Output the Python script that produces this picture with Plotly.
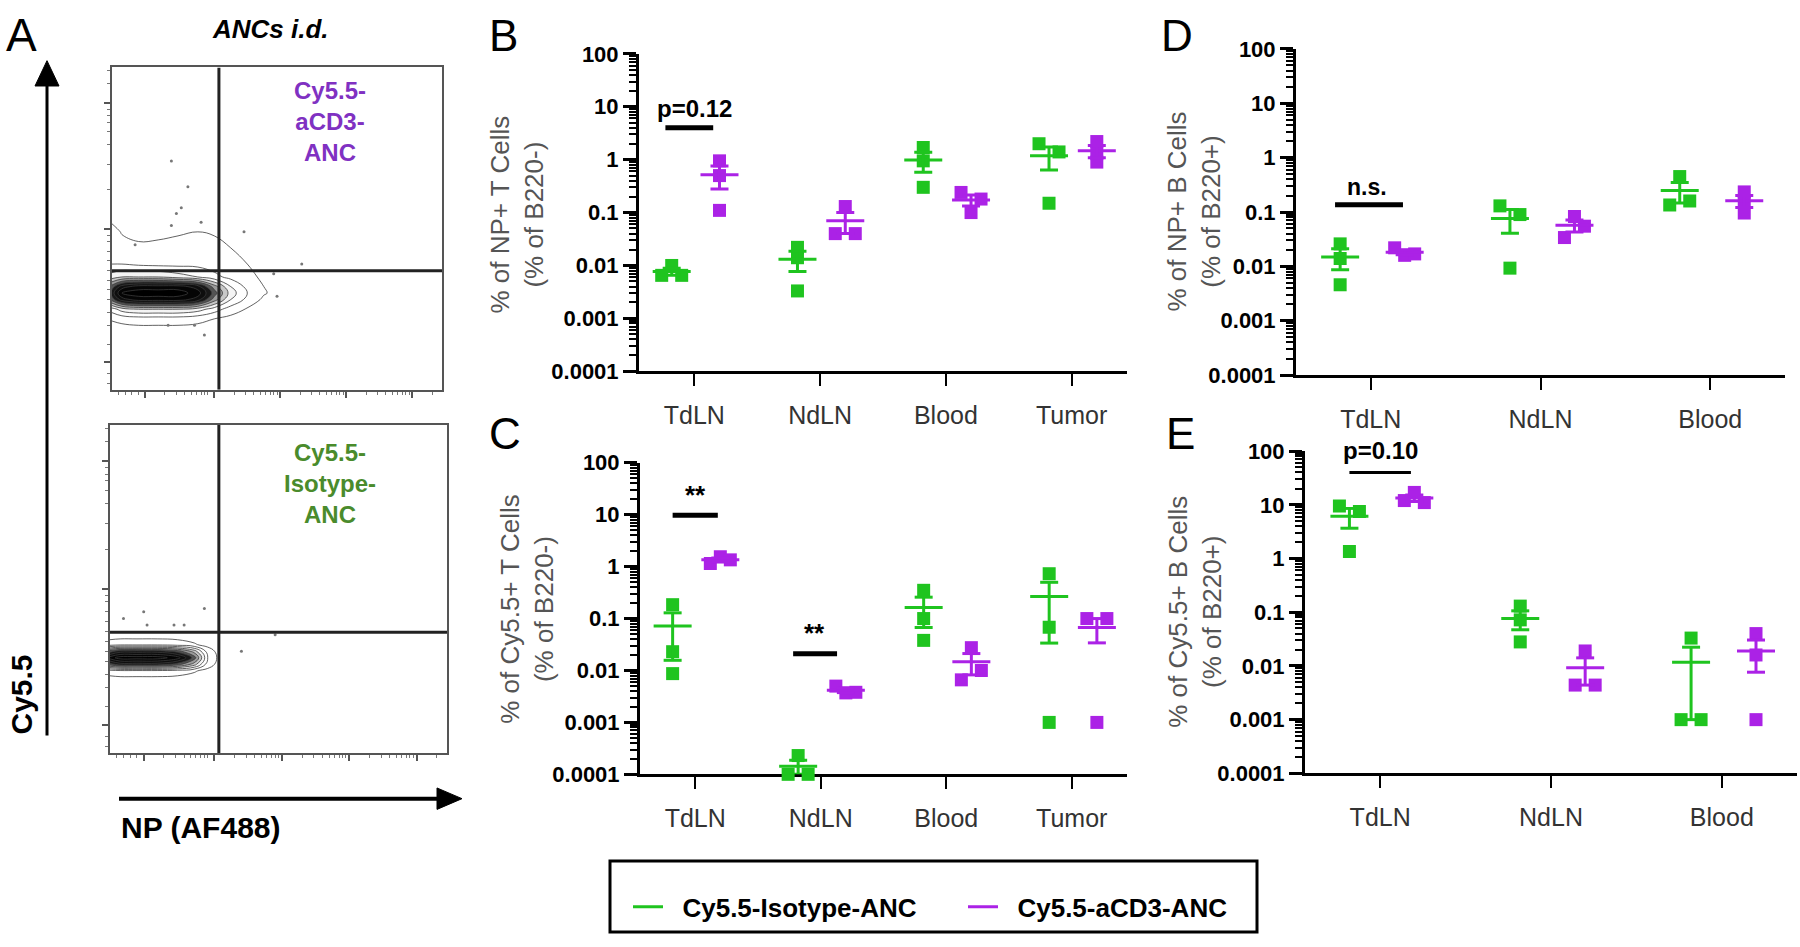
import numpy as np
import plotly.graph_objects as go

W, H = 1800, 947

# ---------------- data ----------------
tcat = ["TdLN", "NdLN", "Blood", "Tumor"]
bcat = ["TdLN", "NdLN", "Blood"]

# B: % of NP+ T Cells (% of B220-)
B_iso = [[0.0065, 0.010, 0.0065], [0.022, 0.014, 0.0033], [1.7, 0.95, 0.30], [2.0, 1.4, 0.15]]
B_cd3 = [[0.95, 0.50, 0.11], [0.13, 0.040, 0.040], [0.24, 0.18, 0.10], [2.2, 1.3, 0.90]]
# C: % of Cy5.5+ T Cells (% of B220-)
C_iso = [[0.185, 0.023, 0.0087], [0.00023, 0.0001, 0.0001], [0.35, 0.10, 0.038], [0.73, 0.068, 0.001]]
C_cd3 = [[1.15, 1.55, 1.35], [0.0050, 0.0037, 0.0038], [0.0275, 0.010, 0.0066], [0.10, 0.10, 0.001]]
# D: % of NP+ B Cells (% of B220+)
D_iso = [[0.026, 0.014, 0.0046], [0.13, 0.090, 0.0093], [0.45, 0.16, 0.135]]
D_cd3 = [[0.022, 0.016, 0.017], [0.083, 0.055, 0.034], [0.235, 0.155, 0.096]]
# E: % of Cy5.5+ B Cells (% of B220+)
E_iso = [[9.5, 7.5, 1.35], [0.13, 0.072, 0.028], [0.033, 0.001, 0.001]]
E_cd3 = [[17.0, 12.0, 11.0], [0.019, 0.0044, 0.0044], [0.040, 0.016, 0.001]]

# horizontal spread of overlapping dots (Prism-style), in dot-widths
B_iso_j = [[-1, 0, 1], [0, 0, 0], [0, 0, 0], [-1, 1, 0]]
B_cd3_j = [[0, 0, 0], [0, -1, 1], [-1, 1, 0], [0, 0, 0]]
C_iso_j = [[0, 0, 0], [0, -1, 1], [0, 0, 0], [0, 0, 0]]
C_cd3_j = [[-1, 0, 1], [-1, 0, 1], [0, 1, -1], [-1, 1, 0]]
D_iso_j = [[0, 0, 0], [-1, 1, 0], [0, 1, -1]]
D_cd3_j = [[-1, 0, 1], [0, 1, -1], [0, 0, 0]]
E_iso_j = [[-1, 1, 0], [0, 0, 0], [0, -1, 1]]
E_cd3_j = [[0, -1, 1], [0, -1, 1], [0, 0, 0]]

# significance brackets: (category, bar from, bar to, bar value, label, label offset, label value)
B_sig = [(0, -0.23, 0.15, 4.0, "p=0.12", 0.0, 9.4)]
C_sig = [(0, -0.18, 0.18, 9.8, "**", 0.0, 24.0), (1, -0.22, 0.13, 0.021, "**", -0.05, 0.052)]
D_sig = [(0, -0.21, 0.19, 0.137, "n.s.", -0.02, 0.29)]
E_sig = [(0, -0.18, 0.18, 40.0, "p=0.10", 0.0, 103.0)]

# flow-cytometry panels (A): gates and approximate contour densities (box-relative units)
top_gate_x, top_gate_y = 0.324, 0.369
bot_gate_x, bot_gate_y = 0.323, 0.368
top_cx = [0.0, 0.03, 0.08, 0.14, 0.20, 0.26, 0.31, 0.36, 0.41, 0.46, 0.52]
top_cy = [0.18, 0.22, 0.25, 0.28, 0.30, 0.32, 0.35, 0.39, 0.44, 0.49, 0.53]
top_cz = [
    [0, 0, 0, 0, 0, 0, 0, 0, 0, 0, 0],
    [0.6, 0.8, 1.0, 1.0, 1.0, 0.8, 0.5, 0.2, 0, 0, 0],
    [2.0, 3.0, 3.5, 3.5, 3.5, 3.0, 2.0, 1.0, 0.4, 0, 0],
    [6.0, 8.0, 9.0, 9.0, 9.0, 8.0, 5.0, 2.5, 1.2, 0.3, 0],
    [7.0, 9.5, 10.0, 10.0, 10.0, 9.0, 6.0, 3.0, 1.5, 0.6, 0],
    [6.0, 8.0, 9.0, 9.0, 9.0, 8.0, 5.0, 2.5, 1.2, 0.5, 0],
    [3.0, 3.5, 3.5, 3.5, 3.0, 2.5, 1.8, 1.2, 0.8, 0.3, 0],
    [1.5, 1.5, 1.3, 1.2, 1.2, 1.2, 1.0, 0.8, 0.5, 0.1, 0],
    [1.2, 1.0, 0.7, 0.7, 0.8, 0.9, 0.8, 0.5, 0.2, 0, 0],
    [1.0, 0.4, 0.2, 0.3, 0.4, 0.5, 0.4, 0.2, 0, 0, 0],
    [0.2, 0, 0, 0, 0, 0, 0, 0, 0, 0, 0],
]
top_dots_x = [0.18, 0.23, 0.21, 0.195, 0.18, 0.27, 0.40, 0.575, 0.49, 0.50, 0.07, 0.17, 0.25, 0.28]
top_dots_y = [0.71, 0.63, 0.565, 0.547, 0.51, 0.52, 0.49, 0.39, 0.36, 0.29, 0.45, 0.20, 0.20, 0.17]
bot_cx = [0.0, 0.03, 0.08, 0.14, 0.20, 0.25, 0.29, 0.33]
bot_cy = [0.22, 0.25, 0.27, 0.29, 0.31, 0.33, 0.36]
bot_cz = [
    [0, 0, 0, 0, 0, 0, 0, 0],
    [1.0, 1.2, 1.2, 1.2, 1.0, 0.6, 0.2, 0],
    [6.0, 7.0, 7.0, 7.0, 6.0, 4.0, 1.0, 0],
    [9.0, 10.0, 10.0, 10.0, 9.0, 6.0, 1.5, 0],
    [6.0, 7.0, 7.0, 7.0, 6.0, 4.0, 1.0, 0],
    [1.0, 1.2, 1.2, 1.2, 1.0, 0.6, 0.2, 0],
    [0, 0, 0, 0, 0, 0, 0, 0],
]
bot_dots_x = [0.04, 0.10, 0.11, 0.19, 0.22, 0.28, 0.39, 0.49]
bot_dots_y = [0.41, 0.43, 0.39, 0.39, 0.39, 0.44, 0.31, 0.36]

log_tickvals = [1e-4, 1e-3, 1e-2, 1e-1, 1, 10, 100]
log_ticktext = ["0.0001", "0.001", "0.01", "0.1", "1", "10", "100"]

# ---------------- styling ----------------
GREEN = "#1fc41f"
PURPLE = "#ab22e6"
FONT = "Arial, Liberation Sans, sans-serif"
LOG_MIN, LOG_MAX = -4, 2


def px(x):
    return x / W


def py(y):
    return 1 - y / H


fig = go.Figure()

panels = [
    dict(cats=tcat, iso=B_iso, cd3=B_cd3, ji=B_iso_j, jc=B_cd3_j, sig=B_sig, xa="x", ya="y",
         xd=(639, 1127), yd=(43, 369), bar_w=5, sig_size=24,
         title="% of NP+ T Cells<br>(% of B220-)", txy=(517, 208), legend=True),
    dict(cats=tcat, iso=C_iso, cd3=C_cd3, ji=C_iso_j, jc=C_cd3_j, sig=C_sig, xa="x2", ya="y2",
         xd=(640, 1127), yd=(463, 783), bar_w=5, sig_size=26,
         title="% of Cy5.5+ T Cells<br>(% of B220-)", txy=(527, 613), legend=False),
    dict(cats=bcat, iso=D_iso, cd3=D_cd3, ji=D_iso_j, jc=D_cd3_j, sig=D_sig, xa="x3", ya="y3",
         xd=(1296, 1785), yd=(38, 373), bar_w=5, sig_size=23,
         title="% of NP+ B Cells<br>(% of B220+)", txy=(1194, 205), legend=False),
    dict(cats=bcat, iso=E_iso, cd3=E_cd3, ji=E_iso_j, jc=E_cd3_j, sig=E_sig, xa="x4", ya="y4",
         xd=(1305, 1797), yd=(451, 782), bar_w=3, sig_size=24,
         title="% of Cy5.5+ B Cells<br>(% of B220+)", txy=(1195, 616), legend=False),
]

minor_vals = [k * 10.0 ** d for d in range(-4, 2) for k in range(2, 10)]
annotations = []
shapes = []

for i, p in enumerate(panels):
    n = len(p["cats"])
    span = n - 1 + 0.88
    spacing = (p["xd"][1] - p["xd"][0]) / span
    for vals, jit, color, off, name in [(p["iso"], p["ji"], GREEN, -0.18, "\u00a0\u00a0Cy5.5-Isotype-ANC"),
                                        (p["cd3"], p["jc"], PURPLE, 0.20, "\u00a0\u00a0Cy5.5-aCD3-ANC")]:
        mx, my, lx, ly = [], [], [], []
        hw, cw, ju = 19 / spacing, 9 / spacing, 10 / spacing
        for k, (v, j) in enumerate(zip(vals, jit)):
            c = k + off
            for val, jj in zip(v, j):
                mx.append(c + jj * ju)
                my.append(val)
            m = float(np.mean(v))
            s = float(np.std(v, ddof=1) / np.sqrt(len(v)))
            lo = max(m - s, 1e-5)
            lx += [c - hw, c + hw, None, c, c, None, c - cw, c + cw, None, c - cw, c + cw, None]
            ly += [m, m, None, lo, m + s, None, m + s, m + s, None, lo, lo, None]
        fig.add_trace(go.Scatter(x=mx, y=my, mode="markers", xaxis=p["xa"], yaxis=p["ya"],
                                 marker=dict(symbol="square", size=13, color=color, line=dict(width=0)),
                                 cliponaxis=False, showlegend=False, hoverinfo="y"))
        fig.add_trace(go.Scatter(x=lx, y=ly, mode="lines", xaxis=p["xa"], yaxis=p["ya"],
                                 line=dict(color=color, width=3), cliponaxis=False,
                                 name=name, showlegend=p["legend"], hoverinfo="skip"))
    for (cat, x0, x1, yb, label, tx, ty) in p["sig"]:
        fig.add_trace(go.Scatter(x=[cat + x0, cat + x1], y=[yb, yb], mode="lines", xaxis=p["xa"],
                                 yaxis=p["ya"], line=dict(color="black", width=p["bar_w"]),
                                 showlegend=False, cliponaxis=False, hoverinfo="skip"))
        # label placed in the axis' domain frame so it may sit above the top of the range
        yfrac = (float(np.log10(ty)) - LOG_MIN) / (LOG_MAX - LOG_MIN)
        annotations.append(dict(text=label, x=cat + tx, y=yfrac, xref=p["xa"], yref=p["ya"] + " domain",
                                showarrow=False, xanchor="center", yanchor="middle",
                                font=dict(family=FONT, size=p["sig_size"], color="black", weight="bold")))
    sfx = "" if i == 0 else str(i + 1)
    fig.layout["xaxis" + sfx] = dict(
        domain=[px(p["xd"][0]), px(p["xd"][1])], range=[-0.44, n - 1 + 0.44], anchor=p["ya"],
        tickmode="array", tickvals=list(range(n)), ticktext=p["cats"], ticks="outside", ticklen=12,
        tickwidth=2, tickcolor="black", showline=True, linewidth=3, linecolor="black",
        showgrid=False, zeroline=False, layer="below traces", fixedrange=True,
        tickfont=dict(family=FONT, size=25, color="#333333"), ticklabelstandoff=8)
    fig.layout["yaxis" + sfx] = dict(
        domain=[py(p["yd"][1]), py(p["yd"][0])], type="log", range=[LOG_MIN, LOG_MAX], anchor=p["xa"],
        tickmode="array", tickvals=log_tickvals, ticktext=log_ticktext, ticks="outside",
        ticklen=13, tickwidth=3, tickcolor="black", showline=True, linewidth=3,
        linecolor="black", showgrid=False, zeroline=False, layer="below traces", fixedrange=True,
        tickfont=dict(family=FONT, size=22, color="black", weight="bold"),
        minor=dict(ticks="outside", ticklen=7, tickwidth=2, tickcolor="black",
                   tickmode="array", tickvals=minor_vals, showgrid=False))
    annotations.append(dict(text=p["title"], x=px(p["txy"][0]), y=py(p["txy"][1]), xref="paper",
                            yref="paper", textangle=-90, showarrow=False, xanchor="center",
                            yanchor="middle", font=dict(family=FONT, size=26, color="#555555")))

# ---------------- panel A (flow plots) ----------------
flow_x_major = [0.10, 0.31, 0.51, 0.71, 0.91]
flow_x_minor = [0.02, 0.04, 0.06, 0.08] + [m + f for m in [0.10, 0.31, 0.51, 0.71]
                                            for f in [0.06, 0.095, 0.12, 0.14, 0.155, 0.17, 0.18, 0.19]] + [0.97]
flow_y_major = [0.086, 0.50, 0.89]
flow_y_minor = [0.02, 0.05, 0.14, 0.20, 0.24, 0.28, 0.31, 0.34, 0.37, 0.40, 0.43, 0.46, 0.48,
                0.62, 0.70, 0.76, 0.80, 0.83, 0.85, 0.87, 0.95, 0.99]

flows = [
    dict(xa="x5", ya="y5", xd=(112, 442), yd=(57, 388), cx=top_cx, cy=top_cy, cz=top_cz,
         dx=top_dots_x, dy=top_dots_y, gx=top_gate_x, gy=top_gate_y),
    dict(xa="x6", ya="y6", xd=(110, 447), yd=(424, 761), cx=bot_cx, cy=bot_cy, cz=bot_cz,
         dx=bot_dots_x, dy=bot_dots_y, gx=bot_gate_x, gy=bot_gate_y),
]
for j, f in enumerate(flows):
    fig.add_trace(go.Contour(x=f["cx"], y=f["cy"], z=f["cz"], xaxis=f["xa"], yaxis=f["ya"],
                             showscale=False, zmin=0, zmax=10, hoverinfo="skip",
                             colorscale=[[0, "#ffffff"], [0.25, "#ffffff"], [0.5, "#9a9a9a"],
                                         [0.7, "#1a1a1a"], [1, "#000000"]],
                             contours=dict(start=0.5, end=10, size=1.0, coloring="fill"),
                             line=dict(color="#3a3a3a", width=0.8, smoothing=1.2)))
    fig.add_trace(go.Scatter(x=f["dx"], y=f["dy"], mode="markers", xaxis=f["xa"], yaxis=f["ya"],
                             marker=dict(size=3, color="#777777"), showlegend=False, hoverinfo="skip"))
    sfx = str(5 + j)
    fig.layout["xaxis" + sfx] = dict(
        domain=[px(f["xd"][0]), px(f["xd"][1])], range=[0, 1], anchor=f["ya"], showline=True,
        mirror=True, linecolor="#555555", linewidth=2, ticks="outside", tickmode="array",
        tickvals=flow_x_major, ticklen=6, tickwidth=2, tickcolor="#555555", showticklabels=False,
        showgrid=False, zeroline=False, fixedrange=True,
        minor=dict(ticks="outside", tickmode="array", tickvals=flow_x_minor, ticklen=3, tickwidth=1,
                   tickcolor="#777777", showgrid=False))
    fig.layout["yaxis" + sfx] = dict(
        domain=[py(f["yd"][1]), py(f["yd"][0])], range=[0, 1], anchor=f["xa"], showline=True,
        mirror=True, linecolor="#555555", linewidth=2, ticks="outside", tickmode="array",
        tickvals=flow_y_major, ticklen=6, tickwidth=2, tickcolor="#555555", showticklabels=False,
        showgrid=False, zeroline=False, fixedrange=True,
        minor=dict(ticks="outside", tickmode="array", tickvals=flow_y_minor, ticklen=3, tickwidth=1,
                   tickcolor="#777777", showgrid=False))
    shapes.append(dict(type="line", xref=f["xa"], yref=f["ya"], x0=f["gx"], x1=f["gx"], y0=0, y1=1,
                       line=dict(color="#222222", width=3)))
    shapes.append(dict(type="line", xref=f["xa"], yref=f["ya"], x0=0, x1=1, y0=f["gy"], y1=f["gy"],
                       line=dict(color="#222222", width=3)))

# axis arrows of panel A
shapes.append(dict(type="line", xref="paper", yref="paper", x0=px(47), x1=px(47), y0=py(743), y1=py(70),
                   line=dict(color="black", width=3)))
shapes.append(dict(type="path", xref="paper", yref="paper",
                   path=f"M {px(47)} {py(50)} L {px(35)} {py(76)} L {px(59)} {py(76)} Z",
                   fillcolor="black", line=dict(color="black", width=1)))
shapes.append(dict(type="line", xref="paper", yref="paper", x0=px(119), x1=px(442), y0=py(808), y1=py(808),
                   line=dict(color="black", width=4)))
shapes.append(dict(type="path", xref="paper", yref="paper",
                   path=f"M {px(462)} {py(808)} L {px(437)} {py(797)} L {px(437)} {py(819)} Z",
                   fillcolor="black", line=dict(color="black", width=1)))

# legend frame
shapes.append(dict(type="rect", xref="paper", yref="paper", x0=px(610), x1=px(1257), y0=py(945), y1=py(872),
                   line=dict(color="black", width=3), fillcolor="rgba(0,0,0,0)"))


def txt(t, x, y, size, color="black", bold=False, italic=False, angle=0):
    return dict(text=t, x=px(x), y=py(y), xref="paper", yref="paper", showarrow=False,
                xanchor="center", yanchor="middle", textangle=angle,
                font=dict(family=FONT, size=size, color=color, weight="bold" if bold else "normal",
                          style="italic" if italic else "normal"))


annotations += [
    txt("A", 21, 24, 46),
    txt("B", 503, 24, 44),
    txt("C", 505, 433, 44),
    txt("D", 1177, 24, 44),
    txt("E", 1180, 433, 44),
    txt("ANCs i.d.", 270, 17, 26, bold=True, italic=True),
    txt("Cy5.5-<br>aCD3-<br>ANC", 330, 112, 24, color="#8031c2", bold=True),
    txt("Cy5.5-<br>Isotype-<br>ANC", 330, 484, 24, color="#4a8b2c", bold=True),
    txt("Cy5.5", 21, 701, 30, bold=True, angle=-90),
    txt("NP (AF488)", 201, 838, 30, bold=True),
]

fig.update_layout(
    width=W, height=H, margin=dict(l=0, r=0, t=0, b=0), paper_bgcolor="white", plot_bgcolor="rgba(0,0,0,0)",
    showlegend=True, annotations=annotations, shapes=shapes,
    legend=dict(orientation="h", x=px(628), y=py(919), xanchor="left", yanchor="middle",
                font=dict(family=FONT, size=26, color="black", weight="bold"), bgcolor="rgba(0,0,0,0)",
                borderwidth=0, entrywidth=290, itemwidth=30),
    font=dict(family=FONT),
)

fig.write_html("out.html", include_plotlyjs=True, full_html=True, config={"displayModeBar": False},
               post_script="document.body.style.margin='0px';document.body.style.overflow='hidden';")
